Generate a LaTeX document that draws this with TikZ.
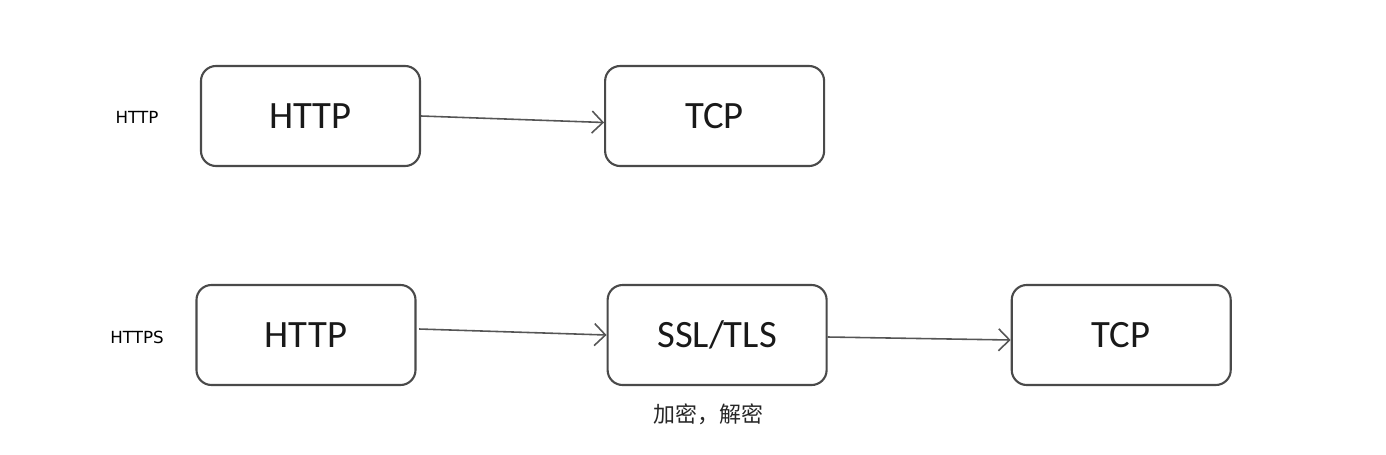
\documentclass[tikz,border=0pt]{standalone}
\usepackage{fontspec}
\setmainfont{Carlito}
\newfontfamily\cjk{Noto Sans CJK SC}
\newfontfamily\tagfont{DejaVu Sans}
\usetikzlibrary{arrows.meta, positioning}
\definecolor{boxgray}{HTML}{4A4A4A}
\definecolor{arrgray}{HTML}{555555}
\tikzset{layer/.style={draw=boxgray, line width=1.2pt, rounded corners=0.3cm,
    minimum width=4.38cm, minimum height=2cm, inner sep=0pt,
    font=\fontsize{22}{26}\selectfont, text=black!90}}
\tikzset{tag/.style={font=\tagfont\fontsize{9.5}{11}\selectfont, text=black}}

\begin{document}
\begin{tikzpicture}[>={Straight Barb[length=2.2mm,width=4.4mm]}]
    \useasboundingbox (0,0) rectangle (27.72,9.08);
    % top row
    \node[layer] (h1) at (6.21,6.76) {HTTP};
    \node[layer, right=3.66cm of h1] (t1) {TCP};
    \node[tag] (lab1) at (2.74,6.74) {HTTP};
    % bottom row
    \node[layer] (h2) at (6.12,2.38) {HTTP};
    \node[layer, right=3.80cm of h2] (s2) {SSL/TLS};
    \node[layer, right=3.66cm of s2] (t2) {TCP};
    \node[tag] (lab2) at (2.74,2.34) {HTTPS};
    \node[below=0.24cm of s2, xshift=-0.18cm, font=\cjk\fontsize{12.5}{15}\selectfont, text=black!85] (enc) {加密，解密};

    \draw[->, arrgray, line width=0.9pt] (h1.east) -- ([yshift=-0.13cm]t1.west);
    \draw[->, arrgray, line width=0.9pt] ([xshift=0.05cm,yshift=0.12cm]h2.east) -- (s2.west);
    \draw[->, arrgray, line width=0.9pt] ([yshift=-0.04cm]s2.east) -- ([yshift=-0.1cm]t2.west);
\end{tikzpicture}
\end{document}
